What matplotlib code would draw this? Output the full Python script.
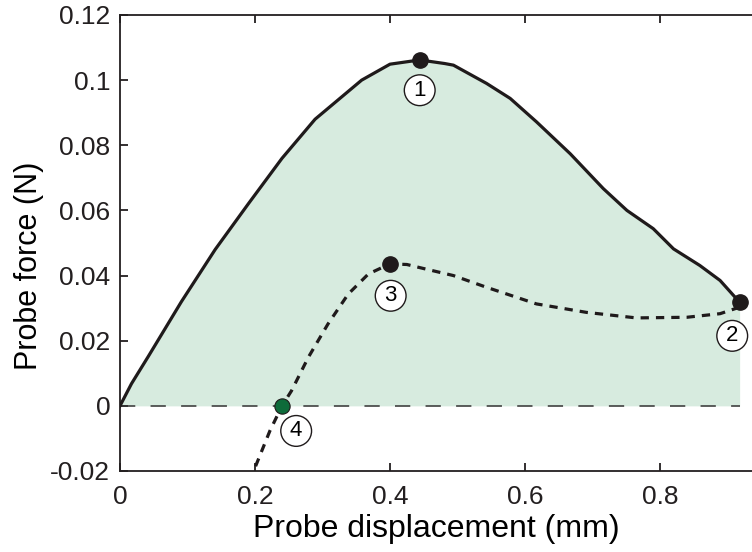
import numpy as np
import matplotlib

matplotlib.use("Agg")
import matplotlib.pyplot as plt

plt.rcParams['font.family'] = ['Liberation Sans', 'DejaVu Sans']

# loading curve (solid)
load_x = [0.0, 0.017, 0.042, 0.091, 0.141, 0.190, 0.240, 0.289, 0.358, 0.400, 0.444,
          0.481, 0.494, 0.543, 0.578, 0.617, 0.667, 0.716, 0.751, 0.790, 0.820,
          0.859, 0.889, 0.918]
load_y = [0.0, 0.0068, 0.0152, 0.0320, 0.0480, 0.0620, 0.0760, 0.0880, 0.1000, 0.1049, 0.1062,
          0.1051, 0.1046, 0.0990, 0.0944, 0.0872, 0.0774, 0.0667, 0.0600, 0.0544, 0.0482,
          0.0431, 0.0385, 0.0318]

# retraction curve (dashed)
ret_x = [0.918, 0.889, 0.840, 0.765, 0.691, 0.617, 0.543, 0.494, 0.449, 0.425,
         0.400, 0.368, 0.338, 0.308, 0.279, 0.254, 0.240, 0.222, 0.198]
ret_y = [0.0303, 0.0283, 0.0272, 0.0270, 0.0287, 0.0313, 0.0364, 0.0400, 0.0422, 0.0434,
         0.0436, 0.0405, 0.0343, 0.0251, 0.0149, 0.0046, 0.0, -0.0077, -0.0200]

# marked points and their labels
pts_x = [0.444, 0.918, 0.400]
pts_y = [0.1062, 0.0318, 0.0434]
zero_x = 0.240
lbl_text = ['1', '2', '3', '4']
lbl_x = [0.444, 0.907, 0.401, 0.261]
lbl_y = [0.0969, 0.0215, 0.0338, -0.0077]

yticks = [-0.02, 0, 0.02, 0.04, 0.06, 0.08, 0.1, 0.12]
ytick_labels = ['-0.02', '0', '0.02', '0.04', '0.06', '0.08', '0.1', '0.12']
xticks = [0, 0.2, 0.4, 0.6, 0.8]
xtick_labels = ['0', '0.2', '0.4', '0.6', '0.8']

fig = plt.figure(figsize=(7.52, 5.52), dpi=100)
ax = fig.add_axes([120 / 752, 81 / 552, 632 / 752, 456 / 552])

ax.fill_between(load_x, load_y, 0, color='#d7ebdf', lw=0, zorder=1)
ax.plot([0, 0.918], [0, 0], color='#333333', lw=1.1, dashes=(10, 10), zorder=2)
ax.plot(load_x, load_y, color='#1f1a1b', lw=2.3, zorder=3)
ax.plot(ret_x, ret_y, color='#1f1a1b', lw=2.3, dashes=(2.6, 2.2), zorder=3)
ax.plot(pts_x, pts_y, 'o', color='#1f1a1b', ms=11, zorder=4)
ax.plot([zero_x], [0], 'o', color='#0e6b3a', mec='#1f1a1b', mew=0.8, ms=11, zorder=4)

for t, x, y in zip(lbl_text, lbl_x, lbl_y):
    ax.text(x, y, t, fontsize=16, ha='center', va='center', zorder=5,
            bbox=dict(boxstyle='circle,pad=0.22', fc='white', ec='#1f1a1b', lw=1.0))

ax.set_xlim(0, 632 / 675)
ax.set_ylim(-0.02, 0.12)
ax.set_xticks(xticks)
ax.set_xticklabels(xtick_labels)
ax.set_yticks(yticks)
ax.set_yticklabels(ytick_labels)
ax.spines['right'].set_visible(False)
for s in ['left', 'top', 'bottom']:
    ax.spines[s].set_linewidth(1.3)
    ax.spines[s].set_color('#231f20')
ax.tick_params(direction='in', length=6, width=1.3, colors='#231f20',
               labelsize=19, top=True, right=False, pad=7)
ax.tick_params(axis='x', pad=10)

ax.set_xlabel('Probe displacement (mm)', fontsize=23, labelpad=4)
ax.set_ylabel('Probe force (N)', fontsize=22, labelpad=8)
ax.yaxis.set_label_coords(-0.12, 0.45)

fig.savefig('out.png', dpi=100)
